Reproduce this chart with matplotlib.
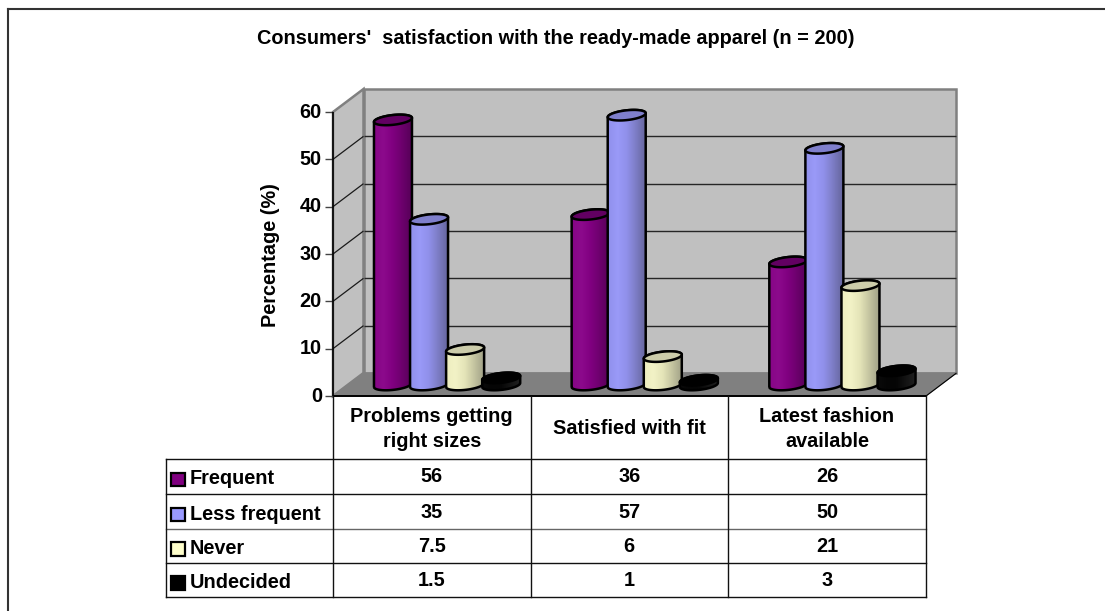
import numpy as np
import matplotlib
matplotlib.use("Agg")
import matplotlib.pyplot as plt
from matplotlib.patches import Polygon, PathPatch, Rectangle
from matplotlib.path import Path
from matplotlib.colors import LinearSegmentedColormap
from matplotlib.transforms import IdentityTransform

plt.rcParams['font.family'] = ['Liberation Sans', 'DejaVu Sans']
plt.rcParams['font.weight'] = 'bold'

categories = ["Problems getting\nright sizes", "Satisfied with fit", "Latest fashion\navailable"]
series_names = ["Frequent", "Less frequent", "Never", "Undecided"]
frequent = [56, 36, 26]
less_frequent = [35, 57, 50]
never = [7.5, 6, 21]
undecided = [1.5, 1, 3]
value_labels = [["56", "36", "26"], ["35", "57", "50"], ["7.5", "6", "21"], ["1.5", "1", "3"]]
series_values = [frequent, less_frequent, never, undecided]
face_colors = ["#800080", "#9999FF", "#FFFFCC", "#000000"]
ramp_colors = [["#860686", "#8C0A8C", "#800080", "#6C006C", "#560058"],
               ["#9090EC", "#9A9AF8", "#9090EA", "#7C7CC4", "#66669E"],
               ["#EEEEC0", "#F2F2C6", "#E4E4B8", "#C4C4A0", "#A2A288"],
               ["#0A0A0A", "#050505", "#060606", "#141414", "#202020"]]
top_colors = ["#620062", "#7F7FCC", "#CCCCAA", "#000000"]
yticks = list(range(0, 70, 10))

W, H = 1105, 611
fig = plt.figure(figsize=(W / 100, H / 100), dpi=100, facecolor="white")

# Front plane of the 3D box: x is the category index, y the percentage.
X0, X1, Y0, Y60 = 333, 926, 396, 112
ax = fig.add_axes([X0 / W, 1 - Y0 / H, (X1 - X0) / W, (Y0 - Y60) / H])
ax.set_xlim(0, 3)
ax.set_ylim(0, 60)
ax.axis("off")
DX, DY = 30.5, 23.0   # box depth on screen
TEXT_SIZE = 14.3


def px(x, y):
    p = ax.transData.transform((x, y))
    return p[0], p[1]


def screen(points, **kw):
    return Polygon(points, closed=True, transform=IdentityTransform(), clip_on=False, **kw)


def seg(a, b, color, lw, z=1):
    ax.plot([a[0], b[0]], [a[1], b[1]], transform=IdentityTransform(), color=color,
            lw=lw, clip_on=False, zorder=z, solid_capstyle="butt")


# Open frame: only the top and left sides of the chart border are visible.
fig.add_artist(plt.Line2D([8 / W, 8 / W], [0, 1 - 9 / H], color="#333333", lw=1.5))
fig.add_artist(plt.Line2D([8 / W, 1], [1 - 9 / H, 1 - 9 / H], color="#333333", lw=1.5))

l0, b0 = px(0, 0)
r0, _ = px(3, 0)
_, t0 = px(0, 60)
wall = [(l0 + DX, b0 + DY), (r0 + DX, b0 + DY), (r0 + DX, t0 + DY), (l0 + DX, t0 + DY)]
ax.add_patch(screen(wall, fc="#C0C0C0", ec="#808080", lw=1.8, zorder=1))
side = [(l0, b0), (l0 + DX, b0 + DY), (l0 + DX, t0 + DY), (l0, t0)]
ax.add_patch(screen(side, fc="#C0C0C0", ec="#808080", lw=1.8, zorder=1))
floor = [(l0, b0), (r0, b0), (r0 + DX, b0 + DY), (l0 + DX, b0 + DY)]
ax.add_patch(screen(floor, fc="#808080", ec="#808080", lw=0.8, zorder=1.1))

# Gridlines run along the back wall and down the side wall to the axis.
for v in yticks[1:-1]:
    _, yp = px(0, v)
    seg((l0 + DX, yp + DY), (r0 + DX, yp + DY), "#262626", 1.0, 1.2)
    seg((l0, yp), (l0 + DX, yp + DY), "#1A1A1A", 0.9, 1.2)
for v in yticks:
    _, yp = px(0, v)
    seg((l0 - 8, yp), (l0, yp), "#444444", 1.0, 3)
    ax.text(l0 - 11, yp, str(v), transform=IdentityTransform(), ha="right", va="center",
            fontsize=TEXT_SIZE, fontweight="bold", clip_on=False)
seg((l0, b0), (l0, t0), "black", 1.2, 3)
seg((l0, b0), (r0, b0), "black", 1.4, 3)
seg((r0, b0), (r0 + DX, b0 + DY), "black", 0.8, 3)

fig.text(270 / W, 1 - 255 / H, "Percentage (%)", rotation=90, ha="center", va="center",
         fontsize=TEXT_SIZE, fontweight="bold")
fig.text(556 / W, 1 - 39 / H, "Consumers'  satisfaction with the ready-made apparel (n = 200)",
         ha="center", va="center", fontsize=TEXT_SIZE, fontweight="bold")


def cylinder(xc, yb, yt, color_idx, z):
    """Tilted cylinder with a shaded body and an elliptical cap, in screen units."""
    a, b, tilt = 19.0, 4.9, 0.105
    t = np.linspace(np.pi, 2 * np.pi, 40)
    bx = xc + a * np.cos(t)
    by = yb + b * np.sin(t) + tilt * a * np.cos(t)
    t2 = t - np.pi
    tx = xc + a * np.cos(t2)
    ty = yt + b * np.sin(t2) + tilt * a * np.cos(t2)
    verts = np.r_[np.c_[bx, by], np.c_[tx, ty], [[bx[0], by[0]]]]
    outline = Path(verts)
    cmap = LinearSegmentedColormap.from_list("shade", ramp_colors[color_idx])
    im = ax.imshow(np.linspace(0, 1, 64)[None, :], extent=(xc - a, xc + a, yb - 12, yt + 12),
                   transform=IdentityTransform(), cmap=cmap, aspect="auto", zorder=z,
                   interpolation="bilinear")
    body = PathPatch(outline, transform=IdentityTransform(), fc="none", ec="black", lw=1.8,
                     zorder=z + 0.01, clip_on=False)
    ax.add_patch(body)
    im.set_clip_path(body)
    t3 = np.linspace(0, 2 * np.pi, 60)
    cap = np.c_[xc + a * np.cos(t3), yt + b * np.sin(t3) + tilt * a * np.cos(t3)]
    ax.add_patch(screen(cap, fc=top_colors[color_idx], ec="black", lw=1.8, zorder=z + 0.02))


# Bars sit at the middle of the box depth; the four series share one slot per category.
slot = 0.1825
z = 4
for c in range(3):
    for s, vals in enumerate(series_values):
        bx, by = px(c + 0.5 + (s - 1.5) * slot, 0)
        _, ty = px(0, vals[c])
        cylinder(bx + DX / 2, by + DY / 2 - 0.5, ty + DY / 2 - 0.5, s, z)
        z += 1

ax.set_xlim(0, 3)
ax.set_ylim(0, 60)

# Data table under the plot, with the legend keys in its first column.
col_x = [166, 333, 530.5, 728, 926]
row_y = [459, 494, 529, 563, 597]


def tline(x0, y0, x1, y1, lw=1.0, color="#111111"):
    fig.add_artist(plt.Line2D([x0 / W, x1 / W], [1 - y0 / H, 1 - y1 / H], color=color, lw=lw))


for i, y in enumerate(row_y):
    tline(col_x[0], y, col_x[-1], y, color="#666666" if i == 2 else "#111111")
tline(col_x[0], row_y[0], col_x[0], row_y[-1])
for x in col_x[1:]:
    tline(x, 396, x, row_y[-1])
for i, name in enumerate(categories):
    xm = (col_x[i + 1] + col_x[i + 2]) / 2
    fig.text(xm / W, 1 - 429 / H, name, ha="center", va="center", fontsize=TEXT_SIZE,
             fontweight="bold", linespacing=1.45)
for r, name in enumerate(series_names):
    ym = (row_y[r] + row_y[r + 1]) / 2
    fig.add_artist(Rectangle((171 / W, 1 - (ym + 9.7) / H), 13.6 / W, 13.6 / H, transform=fig.transFigure,
                             fc=face_colors[r], ec="black", lw=1.6))
    fig.text(190 / W, 1 - (ym + 2.5) / H, name, ha="left", va="center", fontsize=TEXT_SIZE, fontweight="bold")
    for c in range(3):
        xm = (col_x[c + 1] + col_x[c + 2]) / 2
        fig.text(xm / W, 1 - (ym + 0.5) / H, value_labels[r][c], ha="center", va="center",
                 fontsize=TEXT_SIZE, fontweight="bold")

fig.savefig("out.png", dpi=100)
